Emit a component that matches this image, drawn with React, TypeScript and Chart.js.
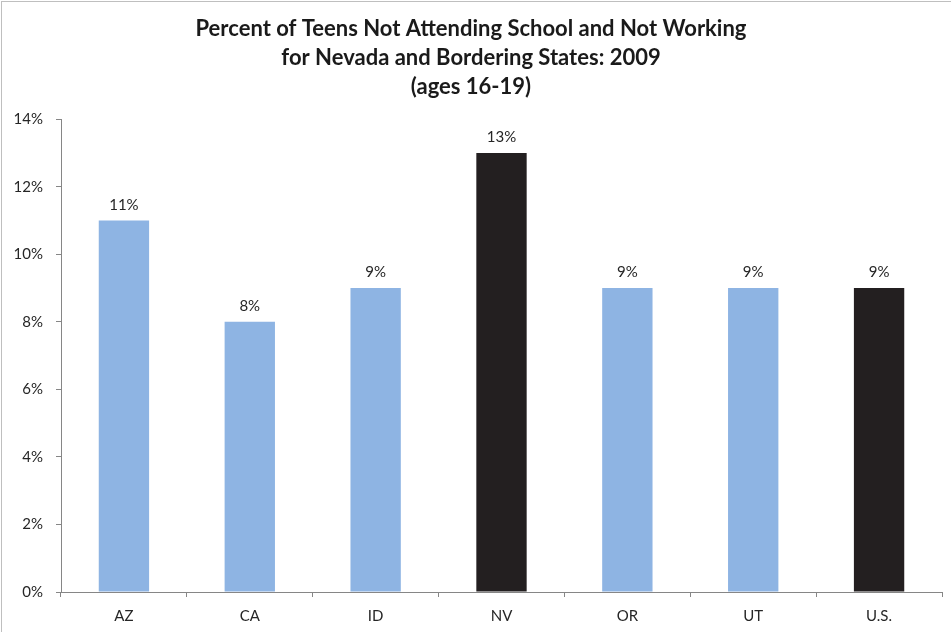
import React, { useEffect, useRef } from "react";
import { Chart, registerables } from "chart.js";

Chart.register(...registerables);

const categories = ["AZ", "CA", "ID", "NV", "OR", "UT", "U.S."];
const values = [11, 8, 9, 13, 9, 9, 9];
const barColors = ["#8EB4E3", "#8EB4E3", "#8EB4E3", "#231F20", "#8EB4E3", "#8EB4E3", "#231F20"];
const titleLines = [
  "Percent of Teens Not Attending School and Not Working",
  "for Nevada and Bordering States: 2009",
  "(ages 16-19)",
];
const yMax = 14;
const yStep = 2;

const FONT = "Lato, 'Open Sans', sans-serif";

export default function App() {
  const ref = useRef<HTMLCanvasElement | null>(null);

  useEffect(() => {
    document.body.style.margin = "0";
    const canvas = ref.current!;
    const labelPlugin = {
      id: "barLabels",
      afterDatasetsDraw(chart: any) {
        const ctx = chart.ctx;
        const meta = chart.getDatasetMeta(0);
        ctx.save();
        ctx.font = `15px ${FONT}`;
        ctx.fillStyle = "#262626";
        ctx.textAlign = "center";
        ctx.textBaseline = "bottom";
        meta.data.forEach((el: any, i: number) => {
          ctx.fillText(values[i] + "%", el.x, el.y - 8);
        });
        ctx.restore();
      },
    };
    const borderPlugin = {
      id: "frame",
      beforeDraw(chart: any) {
        const ctx = chart.ctx;
        ctx.save();
        ctx.fillStyle = "#ffffff";
        ctx.fillRect(0, 0, chart.width, chart.height);
        ctx.strokeStyle = "#BFBFBF";
        ctx.lineWidth = 1;
        ctx.strokeRect(1.5, 1.5, chart.width + 10, chart.height + 10);
        ctx.restore();
      },
    };
    const chart = new Chart(canvas, {
      type: "bar",
      data: {
        labels: categories,
        datasets: [
          {
            data: values,
            backgroundColor: barColors,
            borderWidth: 0,
            categoryPercentage: 1,
            barPercentage: 0.4,
          },
        ],
      },
      options: {
        animation: false,
        responsive: false,
        maintainAspectRatio: false,
        layout: { padding: { left: 0, right: 9, top: 0, bottom: 0 } },
        plugins: {
          legend: { display: false },
          tooltip: { enabled: false },
          title: {
            display: true,
            text: titleLines,
            color: "#1a1a1a",
            font: { family: FONT, size: 22, weight: "bold", lineHeight: 1.32 },
            padding: { top: 14, bottom: 18 },
          },
        },
        scales: {
          x: {
            offset: true,
            grid: {
              offset: true,
              drawOnChartArea: false,
              drawTicks: true,
              tickLength: 5,
              color: "#868686",
            },
            border: { display: true, color: "#868686" },
            ticks: {
              color: "#262626",
              font: { family: FONT, size: 15 },
              padding: 10,
            },
            afterFit(scale: any) {
              scale.height = 40;
            },
          },
          y: {
            min: 0,
            max: yMax,
            grid: {
              drawOnChartArea: false,
              drawTicks: true,
              tickLength: 5,
              color: "#868686",
            },
            border: { display: true, color: "#868686" },
            ticks: {
              stepSize: yStep,
              color: "#262626",
              font: { family: FONT, size: 15 },
              padding: 13,
              callback: (v: any) => v + "%",
            },
            afterFit(scale: any) {
              scale.width = 61;
            },
          },
        },
      },
      plugins: [borderPlugin, labelPlugin],
    });
    return () => chart.destroy();
  }, []);

  return (
    <div style={{ position: "absolute", left: 0, top: 0, width: 951, height: 632 }}>
      <canvas ref={ref} width={951} height={632} style={{ display: "block" }} />
    </div>
  );
}
